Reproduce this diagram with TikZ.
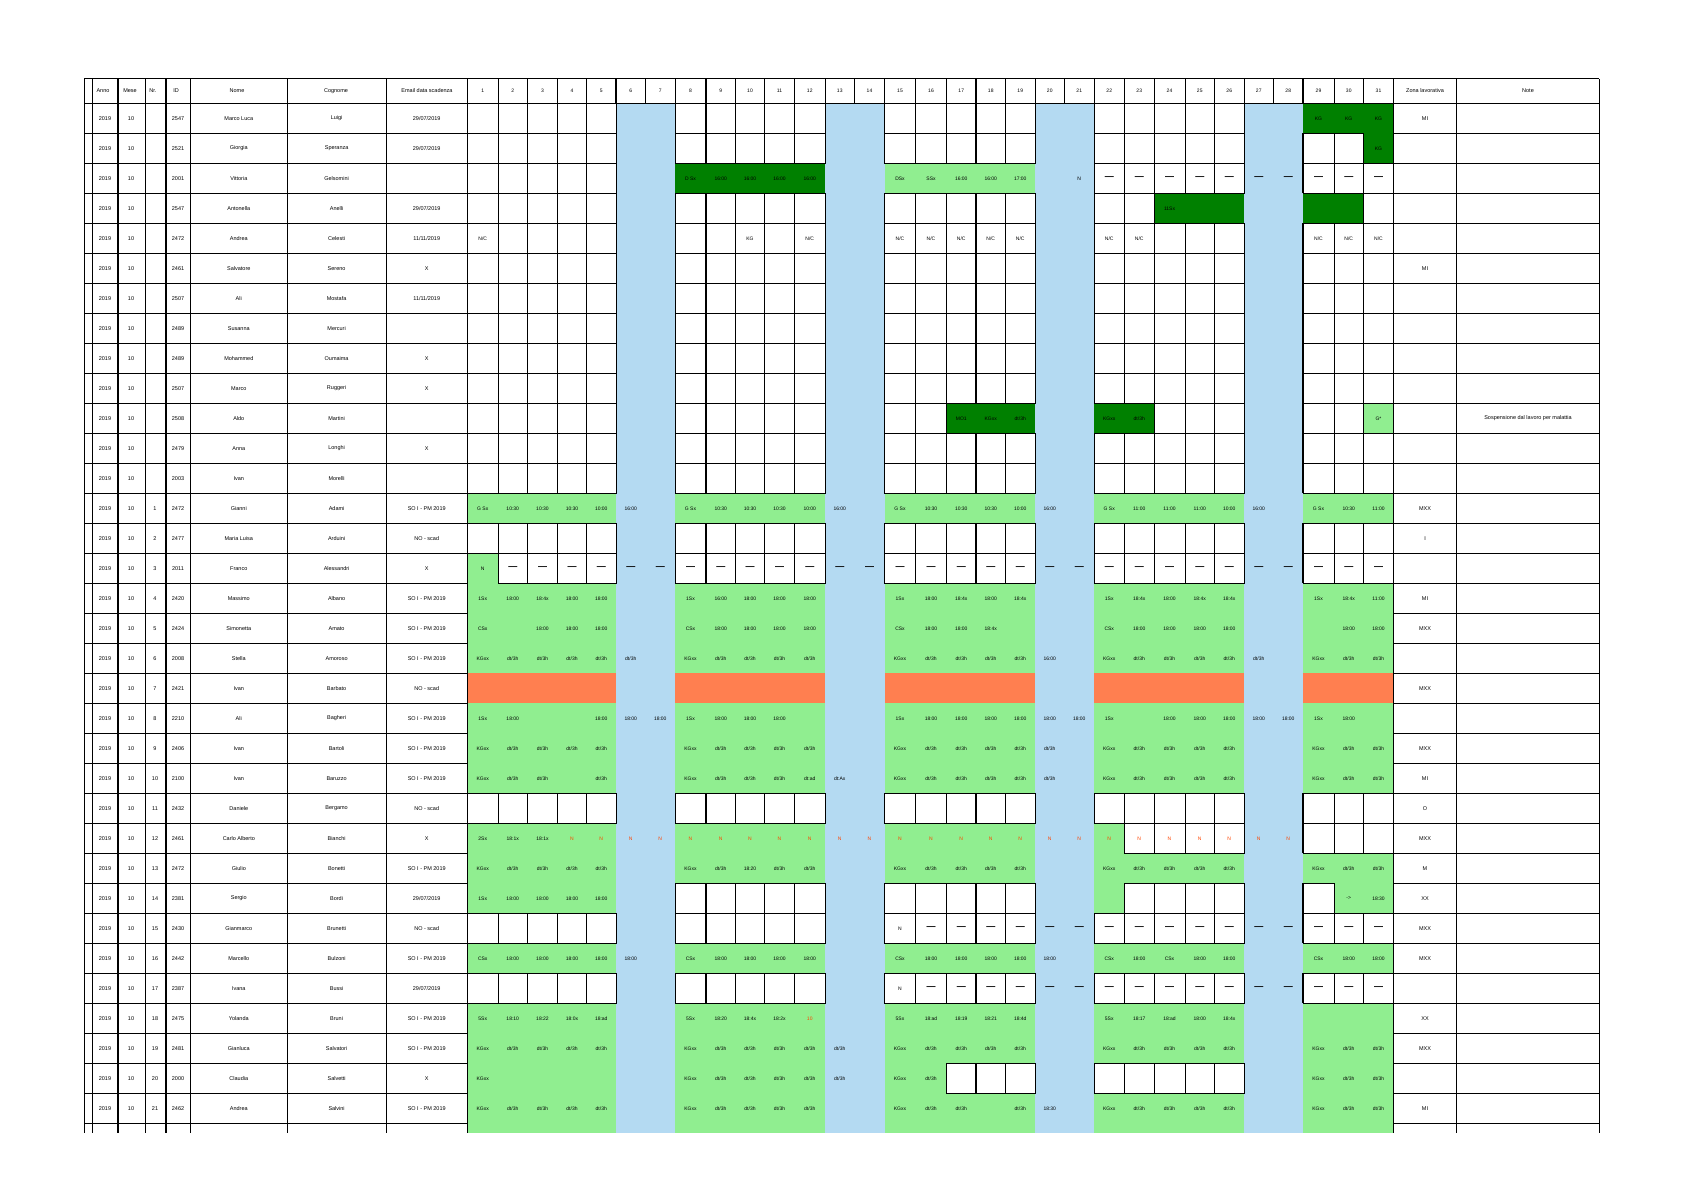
\documentclass[tikz,border=0pt]{standalone}
\usepackage{fontspec}
\setmainfont{Liberation Sans}
\definecolor{lgr}{RGB}{144,238,144}
\definecolor{dgr}{RGB}{0,128,0}
\definecolor{org}{RGB}{255,127,80}
\definecolor{wkb}{RGB}{180,218,242}
\definecolor{redtx}{RGB}{255,69,0}
\newcommand\defrow[2]{\expandafter\def\csname rd#1\endcsname{#2}}
\newcommand\txNC{N/C}
\newcommand\txDH{dt/3h}
\newcommand\txDS{{\fontsize{9}{9}\selectfont\bfseries —}}
\newcommand\txRN{\textcolor{redtx}{N}}
\newcommand\txRD{\textcolor{redtx}{10}}
% day data rows: colour/text
\defrow{1}{W/,W/,W/,W/,W/,B/,B/,W/,W/,W/,W/,W/,B/,B/,W/,W/,W/,W/,W/,B/,B/,W/,W/,W/,W/,W/,B/,B/,D/KG,D/KG,D/KG}
\defrow{2}{W/,W/,W/,W/,W/,B/,B/,W/,W/,W/,W/,W/,B/,B/,W/,W/,W/,W/,W/,B/,B/,W/,W/,W/,W/,W/,B/,B/,W/,W/,D/KG}
\defrow{3}{W/,W/,W/,W/,W/,B/,B/,D/D Sx,D/16:00,D/16:00,D/16:00,D/16:00,B/,B/,L/DSx,L/SSx,L/16:00,L/16:00,L/17:00,B/,B/N,W/\txDS,W/\txDS,W/\txDS,W/\txDS,W/\txDS,B/\txDS,B/\txDS,W/\txDS,W/\txDS,W/\txDS}
\defrow{4}{W/,W/,W/,W/,W/,B/,B/,W/,W/,W/,W/,W/,B/,B/,W/,W/,W/,W/,W/,B/,B/,W/,W/,D/11Sx,D/,D/,B/,B/,D/,D/,W/}
\defrow{5}{W/\txNC,W/,W/,W/,W/,B/,B/,W/,W/,W/KG,W/,W/\txNC,B/,B/,W/\txNC,W/\txNC,W/\txNC,W/\txNC,W/\txNC,B/,B/,W/\txNC,W/\txNC,W/,W/,W/,B/,B/,W/\txNC,W/\txNC,W/\txNC}
\defrow{6}{W/,W/,W/,W/,W/,B/,B/,W/,W/,W/,W/,W/,B/,B/,W/,W/,W/,W/,W/,B/,B/,W/,W/,W/,W/,W/,B/,B/,W/,W/,W/}
\defrow{7}{W/,W/,W/,W/,W/,B/,B/,W/,W/,W/,W/,W/,B/,B/,W/,W/,W/,W/,W/,B/,B/,W/,W/,W/,W/,W/,B/,B/,W/,W/,W/}
\defrow{8}{W/,W/,W/,W/,W/,B/,B/,W/,W/,W/,W/,W/,B/,B/,W/,W/,W/,W/,W/,B/,B/,W/,W/,W/,W/,W/,B/,B/,W/,W/,W/}
\defrow{9}{W/,W/,W/,W/,W/,B/,B/,W/,W/,W/,W/,W/,B/,B/,W/,W/,W/,W/,W/,B/,B/,W/,W/,W/,W/,W/,B/,B/,W/,W/,W/}
\defrow{10}{W/,W/,W/,W/,W/,B/,B/,W/,W/,W/,W/,W/,B/,B/,W/,W/,W/,W/,W/,B/,B/,W/,W/,W/,W/,W/,B/,B/,W/,W/,W/}
\defrow{11}{W/,W/,W/,W/,W/,B/,B/,W/,W/,W/,W/,W/,B/,B/,W/,W/,D/MO1,D/KGxx,D/\txDH,B/,B/,D/KGxx,D/\txDH,W/,W/,W/,B/,B/,W/,W/,L/G*}
\defrow{12}{W/,W/,W/,W/,W/,B/,B/,W/,W/,W/,W/,W/,B/,B/,W/,W/,W/,W/,W/,B/,B/,W/,W/,W/,W/,W/,B/,B/,W/,W/,W/}
\defrow{13}{W/,W/,W/,W/,W/,B/,B/,W/,W/,W/,W/,W/,B/,B/,W/,W/,W/,W/,W/,B/,B/,W/,W/,W/,W/,W/,B/,B/,W/,W/,W/}
\defrow{14}{L/G Sx,L/10:30,L/10:30,L/10:30,L/10:00,B/16:00,B/,L/G Sx,L/10:30,L/10:30,L/10:30,L/10:00,B/16:00,B/,L/G Sx,L/10:30,L/10:30,L/10:30,L/10:00,B/16:00,B/,L/G Sx,L/11:00,L/11:00,L/11:00,L/10:00,B/16:00,B/,L/G Sx,L/10:30,L/11:00}
\defrow{15}{W/,W/,W/,W/,W/,B/,B/,W/,W/,W/,W/,W/,B/,B/,W/,W/,W/,W/,W/,B/,B/,W/,W/,W/,W/,W/,B/,B/,W/,W/,W/}
\defrow{16}{L/N,W/\txDS,W/\txDS,W/\txDS,W/\txDS,B/\txDS,B/\txDS,W/\txDS,W/\txDS,W/\txDS,W/\txDS,W/\txDS,B/\txDS,B/\txDS,W/\txDS,W/\txDS,W/\txDS,W/\txDS,W/\txDS,B/\txDS,B/\txDS,W/\txDS,W/\txDS,W/\txDS,W/\txDS,W/\txDS,B/\txDS,B/\txDS,W/\txDS,W/\txDS,W/\txDS}
\defrow{17}{L/1Sx,L/18:00,L/18:4x,L/18:00,L/18:00,B/,B/,L/1Sx,L/16:00,L/18:00,L/18:00,L/18:00,B/,B/,L/1Sx,L/18:00,L/18:4x,L/18:00,L/18:4x,B/,B/,L/1Sx,L/18:4x,L/18:00,L/18:4x,L/18:4x,B/,B/,L/1Sx,L/18:4x,L/11:00}
\defrow{18}{L/CSx,L/,L/18:00,L/18:00,L/18:00,B/,B/,L/CSx,L/18:00,L/18:00,L/18:00,L/18:00,B/,B/,L/CSx,L/18:00,L/18:00,L/18:4x,L/,B/,B/,L/CSx,L/18:00,L/18:00,L/18:00,L/18:00,B/,B/,L/,L/18:00,L/18:00}
\defrow{19}{L/KGxx,L/\txDH,L/\txDH,L/\txDH,L/\txDH,B/\txDH,B/,L/KGxx,L/\txDH,L/\txDH,L/\txDH,L/\txDH,B/,B/,L/KGxx,L/\txDH,L/\txDH,L/\txDH,L/\txDH,B/16:00,B/,L/KGxx,L/\txDH,L/\txDH,L/\txDH,L/\txDH,B/\txDH,B/,L/KGxx,L/\txDH,L/\txDH}
\defrow{20}{O/,O/,O/,O/,O/,B/,B/,O/,O/,O/,O/,O/,B/,B/,O/,O/,O/,O/,O/,B/,B/,O/,O/,O/,O/,O/,B/,B/,O/,O/,O/}
\defrow{21}{L/1Sx,L/18:00,L/,L/,L/18:00,B/18:00,B/18:00,L/1Sx,L/18:00,L/18:00,L/18:00,L/,B/,B/,L/1Sx,L/18:00,L/18:00,L/18:00,L/18:00,B/18:00,B/18:00,L/1Sx,L/,L/18:00,L/18:00,L/18:00,B/18:00,B/18:00,L/1Sx,L/18:00,L/}
\defrow{22}{L/KGxx,L/\txDH,L/\txDH,L/\txDH,L/\txDH,B/,B/,L/KGxx,L/\txDH,L/\txDH,L/\txDH,L/\txDH,B/,B/,L/KGxx,L/\txDH,L/\txDH,L/\txDH,L/\txDH,B/\txDH,B/,L/KGxx,L/\txDH,L/\txDH,L/\txDH,L/\txDH,B/,B/,L/KGxx,L/\txDH,L/\txDH}
\defrow{23}{L/KGxx,L/\txDH,L/\txDH,L/,L/\txDH,B/,B/,L/KGxx,L/\txDH,L/\txDH,L/\txDH,L/dt:ad,B/dt:Ax,B/,L/KGxx,L/\txDH,L/\txDH,L/\txDH,L/\txDH,B/\txDH,B/,L/KGxx,L/\txDH,L/\txDH,L/\txDH,L/\txDH,B/,B/,L/KGxx,L/\txDH,L/\txDH}
\defrow{24}{W/,W/,W/,W/,W/,B/,B/,W/,W/,W/,W/,W/,B/,B/,W/,W/,W/,W/,W/,B/,B/,W/,W/,W/,W/,W/,B/,B/,W/,W/,W/}
\defrow{25}{L/2Sx,L/18:1x,L/18:1x,L/\txRN,L/\txRN,B/\txRN,B/\txRN,L/\txRN,L/\txRN,L/\txRN,L/\txRN,L/\txRN,B/\txRN,B/\txRN,L/\txRN,L/\txRN,L/\txRN,L/\txRN,L/\txRN,B/\txRN,B/\txRN,L/\txRN,W/\txRN,W/\txRN,W/\txRN,W/\txRN,B/\txRN,B/\txRN,W/,W/,W/}
\defrow{26}{L/KGxx,L/\txDH,L/\txDH,L/\txDH,L/\txDH,B/,B/,L/KGxx,L/\txDH,L/18:20,L/\txDH,L/\txDH,B/,B/,L/KGxx,L/\txDH,L/\txDH,L/\txDH,L/\txDH,B/,B/,L/KGxx,L/\txDH,L/\txDH,L/\txDH,L/\txDH,B/,B/,L/KGxx,L/\txDH,L/\txDH}
\defrow{27}{L/1Sx,L/18:00,L/18:00,L/18:00,L/18:00,B/,B/,W/,W/,W/,W/,W/,B/,B/,W/,W/,W/,W/,W/,B/,B/,L/,W/,W/,W/,W/,B/,B/,W/,L/->,L/18:30}
\defrow{28}{W/,W/,W/,W/,W/,B/,B/,W/,W/,W/,W/,W/,B/,B/,W/N,W/\txDS,W/\txDS,W/\txDS,W/\txDS,B/\txDS,B/\txDS,W/\txDS,W/\txDS,W/\txDS,W/\txDS,W/\txDS,B/\txDS,B/\txDS,W/\txDS,W/\txDS,W/\txDS}
\defrow{29}{L/CSx,L/18:00,L/18:00,L/18:00,L/18:00,B/18:00,B/,L/CSx,L/18:00,L/18:00,L/18:00,L/18:00,B/,B/,L/CSx,L/18:00,L/18:00,L/18:00,L/18:00,B/18:00,B/,L/CSx,L/18:00,L/CSx,L/18:00,L/18:00,B/,B/,L/CSx,L/18:00,L/18:00}
\defrow{30}{W/,W/,W/,W/,W/,B/,B/,W/,W/,W/,W/,W/,B/,B/,W/N,W/\txDS,W/\txDS,W/\txDS,W/\txDS,B/\txDS,B/\txDS,W/\txDS,W/\txDS,W/\txDS,W/\txDS,W/\txDS,B/\txDS,B/\txDS,W/\txDS,W/\txDS,W/\txDS}
\defrow{31}{L/5Sx,L/18:10,L/18:22,L/18:0x,L/18:ad,B/,B/,L/5Sx,L/18:20,L/18:4x,L/18:2x,L/\txRD,B/,B/,L/5Sx,L/18:ad,L/18:19,L/18:21,L/18:4d,B/,B/,L/5Sx,L/18:17,L/18:ad,L/18:00,L/18:4x,B/,B/,L/,L/,L/}
\defrow{32}{L/KGxx,L/\txDH,L/\txDH,L/\txDH,L/\txDH,B/,B/,L/KGxx,L/\txDH,L/\txDH,L/\txDH,L/\txDH,B/\txDH,B/,L/KGxx,L/\txDH,L/\txDH,L/\txDH,L/\txDH,B/,B/,L/KGxx,L/\txDH,L/\txDH,L/\txDH,L/\txDH,B/,B/,L/KGxx,L/\txDH,L/\txDH}
\defrow{33}{L/KGxx,L/,L/,L/,L/,B/,B/,L/KGxx,L/\txDH,L/\txDH,L/\txDH,L/\txDH,B/\txDH,B/,L/KGxx,L/\txDH,W/,W/,W/,B/,B/,W/,W/,W/,W/,W/,B/,B/,L/KGxx,L/\txDH,L/\txDH}
\defrow{34}{L/KGxx,L/\txDH,L/\txDH,L/\txDH,L/\txDH,B/,B/,L/KGxx,L/\txDH,L/\txDH,L/\txDH,L/\txDH,B/,B/,L/KGxx,L/\txDH,L/\txDH,L/,L/\txDH,B/18:30,B/,L/KGxx,L/\txDH,L/\txDH,L/\txDH,L/\txDH,B/,B/,L/KGxx,L/\txDH,L/\txDH}
\defrow{35}{L/,L/,L/,L/,L/,B/,B/,L/,L/,L/,L/,L/,B/,B/,L/,L/,L/,L/,L/,B/,B/,L/,L/,L/,L/,L/,B/,B/,L/,L/,L/}
\newcommand\lrow[8]{%
  \pgfmathsetmacro\yy{103.3+30*(#1-1)+15}
  \node[txt] at (105,\yy) {2019};
  \node[txt] at (131,\yy) {10};
  \node[txt] at (155,\yy) {#2};
  \node[txt] at (178,\yy) {#3};
  \node[txt] at (238.8,\yy) {#4};
  \node[txt] at (336.6,\yy) {#5};
  \node[txt] at (426.7,\yy) {#6};
  \node[txt] at (1425,\yy) {#7};
  \node[txt] at (1528,\yy) {#8};
}
\begin{document}
\begin{tikzpicture}[x=1pt,y=-1pt,
  txt/.style={inner sep=0pt,font=\fontsize{5.5}{6}\selectfont},
  daytxt/.style={inner sep=0pt,font=\fontsize{5}{6}\selectfont},
  gl/.style={line width=1pt,black},
  glt/.style={line width=2.2pt,black}]
\useasboundingbox (0,0) rectangle (1684,1190);
\fill[white] (0,0) rectangle (1684,1190);
\def\XS{{467.5,498,527.5,557.5,586.5,616,645.5,675,706,735.5,764.5,794.5,825,854.5,884.5,915.5,946.5,976,1005.5,1035,1064.5,1094,1124.5,1154,1185,1214.5,1244,1273.5,1303,1334,1363.5,1393.5}}
% weekend columns
\foreach \xa/\xb in {616/675,825/884.5,1035/1094,1244/1303}
  \fill[wkb] (\xa,103.3) rectangle (\xb,1132.7);
% pass 1: coloured cells
\foreach \r in {1,...,35}{
  \pgfmathsetmacro\yt{103.3+30*(\r-1)}
  \pgfmathsetmacro\yb{min(\yt+30,1132.7)}
  \expandafter\let\expandafter\cur\csname rd\r\endcsname
  \foreach \cl/\tx [count=\ci] in \cur {
    \pgfmathsetmacro\xa{\XS[\ci-1]}
    \pgfmathsetmacro\xb{\XS[\ci]}
    \if\cl L\fill[lgr] (\xa,\yt) rectangle (\xb,\yb);\fi
    \if\cl D\fill[dgr] (\xa,\yt) rectangle (\xb,\yb);\fi
    \if\cl O\fill[org] (\xa,\yt) rectangle (\xb,\yb);\fi
  }
}
% left and right grid
\foreach \x in {84,92.3,145.7,190.3,287.3,386,467.5,1393.5,1456.5,1599.3}
  \draw[gl] (\x,79) -- (\x,1132.7);
\foreach \x in {118.3,166}
  \draw[glt] (\x,79) -- (\x,1132.7);
\draw[gl] (84,79) -- (1599.3,79);
\draw[gl] (84,103.3) -- (1599.3,103.3);
\foreach \k in {1,...,34}{
  \draw[gl] (84,{103.3+30*\k}) -- (467.5,{103.3+30*\k});
  \draw[gl] (1393.5,{103.3+30*\k}) -- (1599.3,{103.3+30*\k});
}
% header day columns
\foreach \i in {1,...,31}{
  \pgfmathsetmacro\xa{\XS[\i-1]}
  \pgfmathsetmacro\xb{\XS[\i]}
  \draw[gl] (\xb,79) -- (\xb,103.3);
  \node[daytxt] at ({(\xa+\xb)/2},91) {\i};
}
\foreach \x in {616,706,976,1303}
  \draw[glt] (\x,79) -- (\x,103.3);
% header texts
\node[txt] at (103,91) {Anno};
\node[txt] at (130,91) {Mese};
\node[txt] at (153,91) {Nr.};
\node[txt] at (176,91) {ID};
\node[txt] at (237,91) {Nome};
\node[txt] at (336,91) {Cognome};
\node[txt] at (427,91) {Email data scadenza};
\node[txt] at (1425,91) {Zona lavorativa};
\node[txt] at (1528,91) {Note};
% pass 2: borders of white cells and texts
\foreach \r in {1,...,34}{
  \pgfmathsetmacro\yt{103.3+30*(\r-1)}
  \pgfmathsetmacro\yb{\yt+30}
  \expandafter\let\expandafter\cur\csname rd\r\endcsname
  \foreach \cl/\tx [count=\ci] in \cur {
    \pgfmathsetmacro\xa{\XS[\ci-1]}
    \pgfmathsetmacro\xb{\XS[\ci]}
    \if\cl W\draw[gl] (\xa,\yt) rectangle (\xb,\yb);
      \pgfmathtruncatemacro\thk{(\ci==9)||(\ci==18)||(\ci==29)}
      \ifnum\thk=1 \draw[glt] (\xa,\yt) -- (\xa,\yb);\fi
    \fi
    \node[daytxt] at ({(\xa+\xb)/2},{\yt+15}) {\tx};
  }
}
% left and right column texts
\lrow{1}{}{2547}{Marco Luca}{Luigi}{29/07/2019}{MI}{}
\lrow{2}{}{2521}{Giorgia}{Speranza}{29/07/2019}{}{}
\lrow{3}{}{2001}{Vittoria}{Gelsomini}{}{}{}
\lrow{4}{}{2547}{Antonella}{Anelli}{29/07/2019}{}{}
\lrow{5}{}{2472}{Andrea}{Celesti}{11/11/2019}{}{}
\lrow{6}{}{2461}{Salvatore}{Sereno}{X}{MI}{}
\lrow{7}{}{2507}{Ali}{Mostafa}{11/11/2019}{}{}
\lrow{8}{}{2489}{Susanna}{Mercuri}{}{}{}
\lrow{9}{}{2489}{Mohammed}{Oumaima}{X}{}{}
\lrow{10}{}{2507}{Marco}{Ruggeri}{X}{}{}
\lrow{11}{}{2508}{Aldo}{Martini}{}{}{Sospensione dal lavoro per malattia}
\lrow{12}{}{2479}{Anna}{Longhi}{X}{}{}
\lrow{13}{}{2003}{Ivan}{Morelli}{}{}{}
\lrow{14}{1}{2472}{Gianni}{Adami}{SO I - PM 2019}{MXX}{}
\lrow{15}{2}{2477}{Maria Luisa}{Arduini}{NO - scad}{I}{}
\lrow{16}{3}{2011}{Franco}{Alessandri}{X}{}{}
\lrow{17}{4}{2420}{Massimo}{Albano}{SO I - PM 2019}{MI}{}
\lrow{18}{5}{2424}{Simonetta}{Amato}{SO I - PM 2019}{MXX}{}
\lrow{19}{6}{2008}{Stella}{Amoroso}{SO I - PM 2019}{}{}
\lrow{20}{7}{2421}{Ivan}{Barbato}{NO - scad}{MXX}{}
\lrow{21}{8}{2210}{Ali}{Bagheri}{SO I - PM 2019}{}{}
\lrow{22}{9}{2406}{Ivan}{Bartoli}{SO I - PM 2019}{MXX}{}
\lrow{23}{10}{2100}{Ivan}{Baruzzo}{SO I - PM 2019}{MI}{}
\lrow{24}{11}{2432}{Daniele}{Bergamo}{NO - scad}{O}{}
\lrow{25}{12}{2461}{Carlo Alberto}{Bianchi}{X}{MXX}{}
\lrow{26}{13}{2472}{Giulio}{Bonetti}{SO I - PM 2019}{M}{}
\lrow{27}{14}{2381}{Sergio}{Bordi}{29/07/2019}{XX}{}
\lrow{28}{15}{2430}{Gianmarco}{Brunetti}{NO - scad}{MXX}{}
\lrow{29}{16}{2442}{Marcello}{Bulzoni}{SO I - PM 2019}{MXX}{}
\lrow{30}{17}{2387}{Ivana}{Bussi}{29/07/2019}{}{}
\lrow{31}{18}{2475}{Yolanda}{Bruni}{SO I - PM 2019}{XX}{}
\lrow{32}{19}{2481}{Gianluca}{Salvatori}{SO I - PM 2019}{MXX}{}
\lrow{33}{20}{2000}{Claudia}{Salvetti}{X}{}{}
\lrow{34}{21}{2462}{Andrea}{Salvini}{SO I - PM 2019}{MI}{}
\end{tikzpicture}
\end{document}
